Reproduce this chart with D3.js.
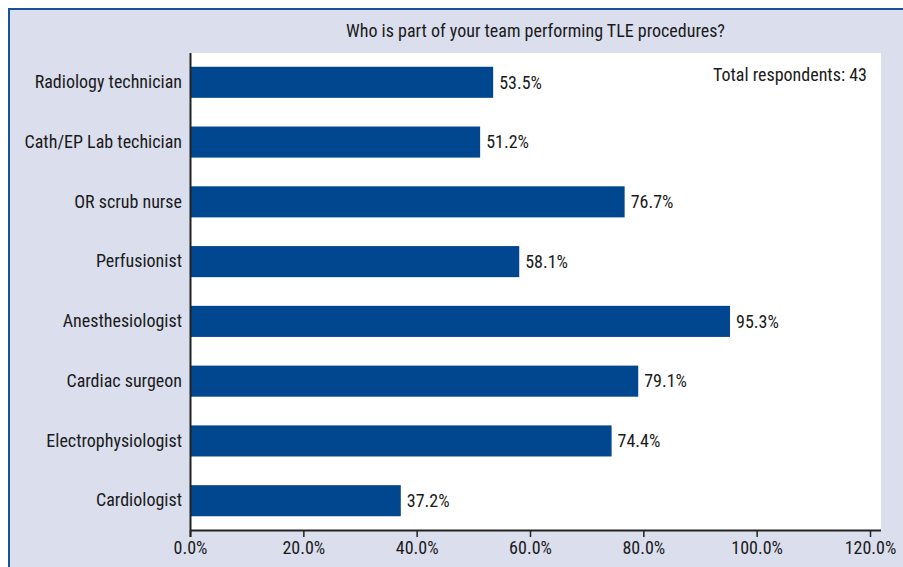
<!DOCTYPE html>
<html>
<head>
<meta charset="utf-8">
<script src="https://cdn.jsdelivr.net/npm/d3@7"></script>
<style>
  body { margin: 0; background: #fff; }
  svg text { font-family: "Liberation Sans Narrow", "Arial Narrow", "Roboto Condensed", sans-serif; fill: #1a1a1a; }
</style>
</head>
<body>
<svg id="chart" width="903" height="567"></svg>
<script>
// categories, top to bottom
var categories = ["Radiology technician", "Cath/EP Lab techician", "OR scrub nurse", "Perfusionist",
    "Anesthesiologist", "Cardiac surgeon", "Electrophysiologist", "Cardiologist"];
var percents = [53.5, 51.2, 76.7, 58.1, 95.3, 79.1, 74.4, 37.2];
var x_ticks = [0, 20, 40, 60, 80, 100, 120];
var chart_title = "Who is part of your team performing TLE procedures?";
var note_text = "Total respondents: 43";

var svg = d3.select("#chart");
var svg_width = 903, svg_height = 567;

var plot_left = 190, plot_right = 881, plot_top = 53, plot_bottom = 530;

// background panel + the blue frame on left/top
svg.append("rect")
    .attr("x", 8).attr("y", 8)
    .attr("width", svg_width - 8).attr("height", svg_height - 8)
    .attr("fill", "#dadeed");
svg.append("path")
    .attr("d", "M9," + svg_height + "V9H" + svg_width)
    .attr("fill", "none")
    .attr("stroke", "#1d4f9c")
    .attr("stroke-width", 2);

// white plot area
svg.append("rect")
    .attr("x", plot_left).attr("y", plot_top)
    .attr("width", plot_right - plot_left).attr("height", plot_bottom - plot_top)
    .attr("fill", "#ffffff");

var xScale = d3.scaleLinear().domain([0, 120]).range([plot_left, 870]);
var yScale = d3.scaleBand().domain(categories).range([plot_top, plot_bottom])
    .paddingInner(0.48).paddingOuter(0.23);

// bars
svg.append("g").selectAll("rect")
    .data(percents)
    .enter().append("rect")
    .attr("x", xScale(0))
    .attr("y", function(d, i) { return yScale(categories[i]); })
    .attr("width", function(d) { return xScale(d) - xScale(0); })
    .attr("height", yScale.bandwidth())
    .attr("fill", "#00478f");

// value labels
svg.append("g").selectAll("text")
    .data(percents)
    .enter().append("text")
    .attr("x", function(d) { return xScale(d) + 6; })
    .attr("y", function(d, i) { return yScale(categories[i]) + yScale.bandwidth() / 2; })
    .attr("dy", "0.35em")
    .attr("font-size", "18px")
    .text(function(d) { return d.toFixed(1) + "%"; });

// x axis
var xAxis = d3.axisBottom(xScale)
    .tickValues(x_ticks)
    .tickSize(7)
    .tickSizeOuter(0)
    .tickPadding(4)
    .tickFormat(function(d) { return d.toFixed(1) + "%"; });

var gx = svg.append("g")
    .attr("transform", "translate(0," + plot_bottom + ")")
    .call(xAxis);
gx.select(".domain").attr("d", "M" + plot_left + ",0.5H" + plot_right).attr("stroke", "#222").attr("stroke-width", 2);
gx.selectAll(".tick line").attr("stroke", "#222").attr("stroke-width", 1.5);
gx.selectAll(".tick text").attr("font-size", "18px").attr("font-family", null).attr("fill", "#1a1a1a");

// y axis
var yAxis = d3.axisLeft(yScale).tickSize(0).tickPadding(8);
var gy = svg.append("g")
    .attr("transform", "translate(" + plot_left + ",0)")
    .call(yAxis);
gy.select(".domain").attr("d", "M0.5," + plot_top + "V" + (plot_bottom + 7)).attr("stroke", "#222").attr("stroke-width", 2);
gy.selectAll(".tick text").attr("font-size", "18px").attr("font-family", null).attr("fill", "#1a1a1a");

// title
svg.append("text")
    .attr("x", (plot_left + plot_right) / 2)
    .attr("y", 31)
    .attr("dy", "0.35em")
    .attr("text-anchor", "middle")
    .attr("font-size", "18px")
    .text(chart_title);

// respondents note
svg.append("text")
    .attr("x", 867)
    .attr("y", 75)
    .attr("dy", "0.35em")
    .attr("text-anchor", "end")
    .attr("font-size", "18px")
    .text(note_text);
</script>
</body>
</html>
